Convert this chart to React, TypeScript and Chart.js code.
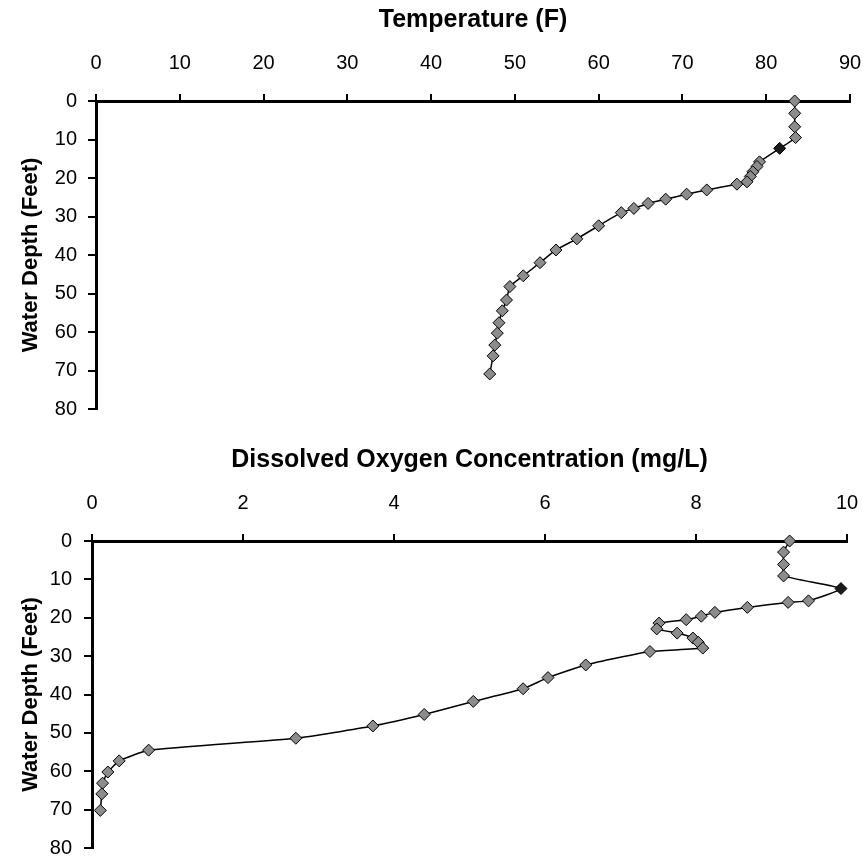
import React, { useEffect, useRef } from 'react';
import { Chart, registerables } from 'chart.js';

Chart.register(...registerables);

// ---- Data ----
const tempDepthFt = [0, 3.2, 6.7, 9.5, 12.3, 15.8, 17, 18.4, 19.6, 21, 21.6, 23.1, 24.2, 25.5, 26.6, 27.9, 29.0, 32.4, 35.8, 38.7, 42, 45.4, 48.2, 51.7, 54.5, 57.6, 60.3, 63.4, 66.2, 70.9];
const temperatureF = [83.4, 83.4, 83.4, 83.5, 81.6, 79.2, 78.9, 78.4, 78.1, 77.7, 76.5, 72.9, 70.5, 68.0, 65.9, 64.2, 62.7, 60.0, 57.4, 54.9, 53.0, 51.0, 49.4, 49.0, 48.5, 48.1, 47.9, 47.6, 47.4, 47.0];

const doDepthFt = [0, 2.9, 6.1, 9.1, 12.4, 15.6, 16, 17.3, 18.6, 19.6, 20.5, 21.4, 22.9, 24, 25.3, 26.4, 27.9, 28.8, 32.3, 35.6, 38.5, 41.8, 45.2, 48.2, 51.4, 54.5, 57.3, 60.2, 63.1, 65.9, 70.2];
const dissolvedOxygenMgL = [9.24, 9.16, 9.16, 9.16, 9.92, 9.49, 9.22, 8.68, 8.25, 8.07, 7.87, 7.51, 7.48, 7.75, 7.96, 8.03, 8.09, 7.39, 6.54, 6.04, 5.71, 5.05, 4.40, 3.72, 2.70, 0.75, 0.36, 0.21, 0.14, 0.13, 0.11];

const tempAxis = { min: 0, max: 90, step: 10, title: 'Temperature (F)' };
const doAxis = { min: 0, max: 10, step: 2, title: 'Dissolved Oxygen Concentration (mg/L)' };
const depthAxis = { min: 0, max: 80, step: 10, title: 'Water Depth (Feet)' };
const darkPointIndex = 4;

const FONT = "Arial, 'Liberation Sans', Helvetica, sans-serif";

type Layout = {
  canvasH: number;
  yWidth: number;
  xHeight: number;
  padRight: number;
  padBottom: number;
  xTitlePad: number;
  yTickPad: number;
};

function makeChart(
  canvas: HTMLCanvasElement,
  xs: number[],
  ys: number[],
  xAxis: { min: number; max: number; step: number; title: string },
  L: Layout
) {
  const data = xs.map((x, i) => ({ x, y: ys[i] }));
  return new Chart(canvas, {
    type: 'scatter',
    data: {
      datasets: [
        {
          data,
          showLine: true,
          borderColor: '#000',
          borderWidth: 1.5,
          tension: 0.15,
          pointStyle: 'rectRot',
          pointRadius: 6,
          pointBorderWidth: 1,
          pointBorderColor: '#000',
          pointBackgroundColor: (ctx: any) => (ctx.dataIndex === darkPointIndex ? '#1a1a1a' : '#8c8c8c'),
          clip: false as any,
        },
      ],
    },
    options: {
      responsive: false,
      animation: false,
      devicePixelRatio: 1,
      layout: { padding: { left: 0, top: 0, right: L.padRight, bottom: L.padBottom } },
      plugins: { legend: { display: false }, tooltip: { enabled: false } },
      scales: {
        x: {
          type: 'linear',
          position: 'top',
          min: xAxis.min,
          max: xAxis.max,
          ticks: {
            stepSize: xAxis.step,
            color: '#000',
            padding: 19,
            font: { family: FONT, size: 20 },
          },
          grid: { drawOnChartArea: false, drawTicks: true, tickLength: 7, color: '#000', lineWidth: 2 },
          border: { display: true, color: '#000', width: 3 },
          title: {
            display: true,
            text: xAxis.title,
            color: '#000',
            font: { family: FONT, size: 25, weight: 'bold' },
            padding: { top: L.xTitlePad, bottom: 0 },
          },
          afterFit: (s: any) => {
            s.height = L.xHeight;
            s.paddingLeft = 0;
            s.paddingRight = 0;
          },
        },
        y: {
          type: 'linear',
          position: 'left',
          reverse: true,
          min: depthAxis.min,
          max: depthAxis.max,
          ticks: {
            stepSize: depthAxis.step,
            color: '#000',
            padding: L.yTickPad,
            font: { family: FONT, size: 20 },
          },
          grid: { drawOnChartArea: false, drawTicks: true, tickLength: 8, color: '#000', lineWidth: 2 },
          border: { display: true, color: '#000', width: 3 },
          title: {
            display: true,
            text: depthAxis.title,
            color: '#000',
            font: { family: FONT, size: 22, weight: 'bold' },
            padding: { top: 18, bottom: 0 },
          },
          afterFit: (s: any) => {
            s.width = L.yWidth;
            s.paddingTop = 0;
            s.paddingBottom = 0;
          },
        },
      },
    } as any,
  });
}

const topLayout: Layout = { canvasH: 430, yWidth: 96, xHeight: 101, padRight: 16, padBottom: 21, xTitlePad: 5, yTickPad: 11 };
const bottomLayout: Layout = { canvasH: 431, yWidth: 92, xHeight: 111, padRight: 19, padBottom: 13, xTitlePad: 15, yTickPad: 12 };

export default function App() {
  const topRef = useRef<HTMLCanvasElement>(null);
  const botRef = useRef<HTMLCanvasElement>(null);

  useEffect(() => {
    const c1 = makeChart(topRef.current!, temperatureF, tempDepthFt, tempAxis, topLayout);
    const c2 = makeChart(botRef.current!, dissolvedOxygenMgL, doDepthFt, doAxis, bottomLayout);
    return () => {
      c1.destroy();
      c2.destroy();
    };
  }, []);

  return (
    <div style={{ position: 'absolute', left: 0, top: 0, width: 866, height: 861, background: '#fff' }}>
      <canvas
        ref={topRef}
        width={866}
        height={topLayout.canvasH}
        style={{ position: 'absolute', left: 0, top: 0, width: 866, height: topLayout.canvasH }}
      />
      <canvas
        ref={botRef}
        width={866}
        height={bottomLayout.canvasH}
        style={{ position: 'absolute', left: 0, top: 430, width: 866, height: bottomLayout.canvasH }}
      />
    </div>
  );
}
